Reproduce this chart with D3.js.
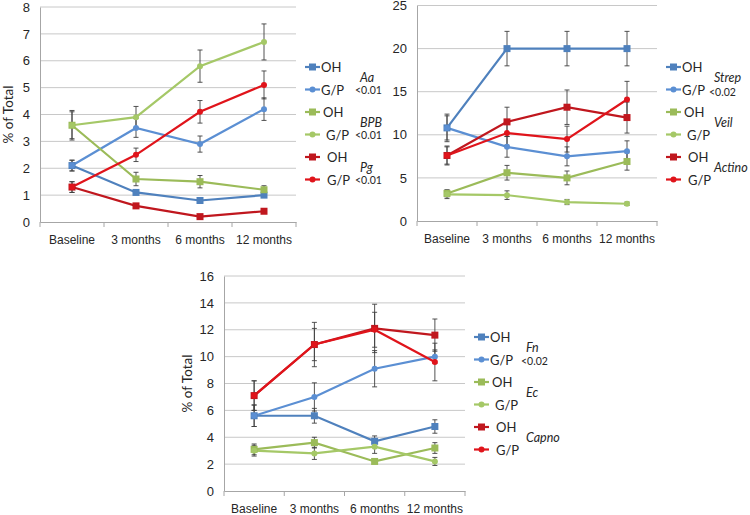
<!DOCTYPE html>
<html><head><meta charset="utf-8">
<script src="https://cdn.jsdelivr.net/npm/d3@7"></script>
<style>body{margin:0;background:#fff;}svg{display:block;font-family:Lato,"Liberation Sans",sans-serif;}</style>
</head><body><svg id="c" width="750" height="515"></svg>
<script>
const categories = ["Baseline", "3 months", "6 months", "12 months"];
const legendLabels = ["OH", "G/P", "OH", "G/P", "OH", "G/P"];

// Panel 1
const yTicks1 = [0, 1, 2, 3, 4, 5, 6, 7, 8];
const aaOH = [2.1, 1.1, 0.8, 1.0], aaOHErr = [0.2, 0.08, 0.05, 0.06];
const aaGP = [2.1, 3.5, 2.9, 4.2], aaGPErr = [0.2, 0.35, 0.3, 0.42];
const bpbOH = [3.6, 1.6, 1.5, 1.2], bpbOHErr = [0.5, 0.25, 0.23, 0.15];
const bpbGP = [3.6, 3.9, 5.8, 6.7], bpbGPErr = [0.55, 0.4, 0.6, 0.67];
const pgOH = [1.3, 0.6, 0.2, 0.4], pgOHErr = [0.2, 0.05, 0.03, 0.04];
const pgGP = [1.3, 2.5, 4.1, 5.1], pgGPErr = [0.2, 0.25, 0.42, 0.52];
const groups1 = [["Aa", "<0.01"], ["BPB", "<0.01"], ["Pg", "<0.01"]];

// Panel 2
const yTicks2 = [0, 5, 10, 15, 20, 25];
const strepOH = [10.8, 20, 20, 20], strepOHErr = [1.6, 2, 2, 2];
const strepGP = [10.8, 8.6, 7.5, 8.1], strepGPErr = [1.4, 1.2, 1.1, 1.2];
const veilOH = [3.2, 5.6, 5.0, 6.9], veilOHErr = [0.4, 0.85, 0.8, 1.0];
const veilGP = [3.1, 3.0, 2.2, 2.0], veilGPErr = [0.5, 0.5, 0.3, 0.2];
const actinoOH = [7.6, 11.5, 13.2, 12.0], actinoOHErr = [1.1, 1.7, 2.0, 1.8];
const actinoGP = [7.6, 10.2, 9.5, 14.1], actinoGPErr = [1.0, 1.4, 1.5, 2.1];
const groups2 = [["Strep", "<0.02"], ["Veil", ""], ["Actino", ""]];

// Panel 3
const yTicks3 = [0, 2, 4, 6, 8, 10, 12, 14, 16];
const fnOH = [5.6, 5.6, 3.7, 4.8], fnOHErr = [0.8, 0.55, 0.4, 0.5];
const fnGP = [5.6, 7.0, 9.1, 10.0], fnGPErr = [0.8, 1.05, 1.35, 0.5];
const ecOH = [3.1, 3.6, 2.2, 3.2], ecOHErr = [0.4, 0.4, 0.1, 0.4];
const ecGP = [3.0, 2.8, 3.3, 2.2], ecGPErr = [0.4, 0.45, 0.5, 0.3];
const capnoOH = [7.1, 10.9, 12.1, 11.6], capnoOHErr = [1.1, 1.65, 1.8, 1.2];
const capnoGP = [7.1, 10.9, 12.0, 9.6], capnoGPErr = [1.1, 1.2, 1.3, 1.4];
const groups3 = [["Fn", "<0.02"], ["Ec", ""], ["Capno", ""]];

const colors = ["#4F81BD", "#5B8FD3", "#9BBB59", "#A5C867", "#C0171E", "#E0141B"];
const shapes = ["square", "circle", "square", "circle", "square", "circle"];

const svg = d3.select("#c");

function panel(cfg) {
  const g = svg.append("g");
  const x = d3.scaleBand().domain(categories).range([cfg.left, cfg.right]);
  const y = d3.scaleLinear().domain([0, cfg.ticks[cfg.ticks.length - 1]]).range([cfg.bottom, cfg.top]);
  g.selectAll(".grid").data(cfg.ticks.filter(t => t > 0)).join("line")
    .attr("x1", cfg.left).attr("x2", cfg.right)
    .attr("y1", d => y(d)).attr("y2", d => y(d))
    .attr("stroke", "#C8C8C8").attr("stroke-width", 1);
  const ya = g.append("g").attr("transform", `translate(${cfg.left},0)`)
    .call(d3.axisLeft(y).tickValues(cfg.ticks).tickSize(0).tickPadding(10).tickFormat(d3.format("d")));
  ya.select(".domain").attr("stroke", "#A6A6A6");
  ya.selectAll("text").attr("font-size", 13).attr("fill", "#262626");
  const xa = g.append("g").attr("transform", `translate(0,${cfg.bottom})`)
    .call(d3.axisBottom(x).tickSize(0).tickPadding(13));
  xa.select(".domain").attr("stroke", "#A6A6A6");
  xa.selectAll("text").attr("font-size", 12).attr("fill", "#262626");
  const bounds = [cfg.left].concat(categories.map(c => x(c) + x.bandwidth()));
  g.selectAll(".xt").data(bounds).join("line")
    .attr("x1", d => d).attr("x2", d => d).attr("y1", cfg.bottom).attr("y2", cfg.bottom + 5)
    .attr("stroke", "#A6A6A6");
  if (cfg.title) {
    g.append("text").attr("transform", `translate(${cfg.titleX},${(cfg.top + cfg.bottom) / 2}) rotate(-90)`)
      .attr("text-anchor", "middle").attr("font-size", 13.5).attr("fill", "#262626").text("% of Total");
  }
  const cx = c => x(c) + x.bandwidth() / 2;
  const order = [0, 1, 2, 3, 4, 5];
  order.forEach(i => {
    const vals = cfg.series[i];
    g.append("path").datum(vals)
      .attr("d", d3.line().x((d, j) => cx(categories[j])).y(d => y(d)))
      .attr("fill", "none").attr("stroke", colors[i]).attr("stroke-width", 2.2);
  });
  order.forEach(i => {
    const vals = cfg.series[i], errs = cfg.errs[i];
    vals.forEach((v, j) => {
      const e = errs[j];
      if (!e) return;
      const xx = cx(categories[j]);
      g.append("line").attr("x1", xx).attr("x2", xx).attr("y1", y(v - e)).attr("y2", y(v + e))
        .attr("stroke", "#404040").attr("stroke-width", 0.9);
      [v - e, v + e].forEach(w => g.append("line").attr("x1", xx - 2.5).attr("x2", xx + 2.5)
        .attr("y1", y(w)).attr("y2", y(w)).attr("stroke", "#404040").attr("stroke-width", 0.9));
    });
  });
  order.forEach(i => {
    const vals = cfg.series[i];
    vals.forEach((v, j) => {
      const xx = cx(categories[j]), yy = y(v);
      if (shapes[i] === "square") g.append("rect").attr("x", xx - 3.5).attr("y", yy - 3.5).attr("width", 7).attr("height", 7).attr("fill", colors[i]);
      else g.append("circle").attr("cx", xx).attr("cy", yy).attr("r", 3).attr("fill", colors[i]);
    });
  });
  const dxs = [0, 0, 2, 5, 6, 6];
  legendLabels.forEach((lab, i) => {
    const ly = cfg.legTop + i * 22.5;
    const lx = cfg.legX;
    g.append("line").attr("x1", lx).attr("x2", lx + 15).attr("y1", ly).attr("y2", ly)
      .attr("stroke", colors[i]).attr("stroke-width", 2.2);
    if (shapes[i] === "square") g.append("rect").attr("x", lx + 4).attr("y", ly - 3.5).attr("width", 7).attr("height", 7).attr("fill", colors[i]);
    else g.append("circle").attr("cx", lx + 7.5).attr("cy", ly).attr("r", 3).attr("fill", colors[i]);
    g.append("text").attr("x", lx + 16 + dxs[i]).attr("y", ly + 5).attr("font-size", 13).attr("fill", "#262626").text(lab);
  });
  cfg.groups.forEach((gr, k) => {
    const gy = cfg.legTop + k * 45;
    g.append("text").attr("x", cfg.grpX).attr("y", gy + 15).attr("font-size", 12.5).attr("font-style", "italic").attr("fill", "#262626").text(gr[0]);
    if (gr[1]) g.append("text").attr("x", cfg.grpX - 5).attr("y", gy + cfg.pDy).attr("font-size", 10.5).attr("fill", "#262626").text(gr[1]);
  });
}

panel({ left: 40, right: 296, top: 7, bottom: 222, ticks: yTicks1, title: true, titleX: 13,
  series: [aaOH, aaGP, bpbOH, bpbGP, pgOH, pgGP], errs: [aaOHErr, aaGPErr, bpbOHErr, bpbGPErr, pgOHErr, pgGPErr],
  legX: 305, legTop: 67, grpX: 360, groups: groups1, pDy: 27 });
panel({ left: 417, right: 657, top: 5.5, bottom: 221, ticks: yTicks2, title: false,
  series: [strepOH, strepGP, veilOH, veilGP, actinoOH, actinoGP], errs: [strepOHErr, strepGPErr, veilOHErr, veilGPErr, actinoOHErr, actinoGPErr],
  legX: 666, legTop: 67, grpX: 714, groups: groups2, pDy: 29 });
panel({ left: 224, right: 465, top: 276, bottom: 491, ticks: yTicks3, title: true, titleX: 192,
  series: [fnOH, fnGP, ecOH, ecGP, capnoOH, capnoGP], errs: [fnOHErr, fnGPErr, ecOHErr, ecGPErr, capnoOHErr, capnoGPErr],
  legX: 474, legTop: 337, grpX: 526, groups: groups3, pDy: 28 });
</script></body></html>
